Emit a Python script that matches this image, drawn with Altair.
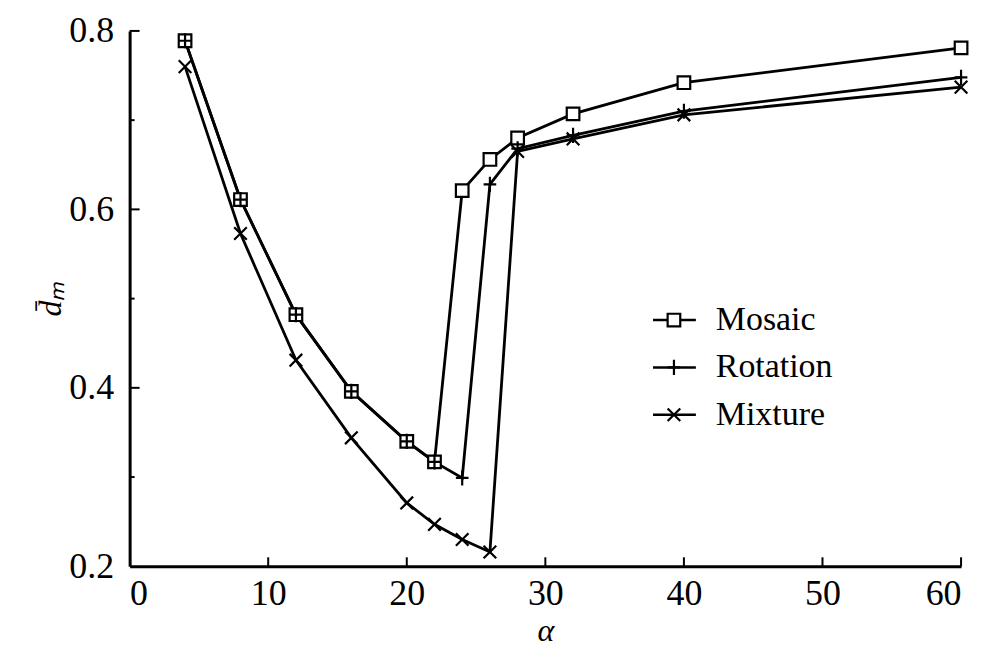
import altair as alt
import pandas as pd

alpha = [4, 8, 12, 16, 20, 22, 24, 26, 28, 32, 40, 60]
mosaic = [0.789, 0.611, 0.482, 0.396, 0.340, 0.317, 0.621, 0.656, 0.680, 0.707, 0.742, 0.781]
rotation = [0.789, 0.611, 0.482, 0.396, 0.340, 0.317, 0.299, 0.628, 0.668, 0.683, 0.710, 0.748]
mixture = [0.760, 0.573, 0.431, 0.344, 0.271, 0.247, 0.230, 0.216, 0.665, 0.679, 0.706, 0.737]
series_names = ["Mosaic", "Rotation", "Mixture"]

x_ticks = [10, 20, 30, 40, 50, 60]
y_major = [0.4, 0.6, 0.8]
y_minor = [0.3, 0.5, 0.7]

rows = []
for name, vals in zip(series_names, [mosaic, rotation, mixture]):
    for a, v in zip(alpha, vals):
        rows.append({"series": name, "alpha": a, "d": v})
df = pd.DataFrame(rows)

FONT = "Liberation Serif"
W, H = 834, 537
SQ = "M-1,-1L1,-1L1,1L-1,1Z"
PLUS = "M-1,0L1,0M0,-1.2L0,1.2"
CROSS = "M-1,-1L1,1M-1,1L1,-1"
shape_scale = alt.Scale(domain=series_names, range=[SQ, PLUS, CROSS])

xs = alt.Scale(domain=[0, 60], nice=False, zero=False)
ys = alt.Scale(domain=[0.2, 0.8], nice=False, zero=False)

base = alt.Chart(df)

lines = base.mark_line(color="black", strokeWidth=2.8).encode(
    x=alt.X("alpha:Q", scale=xs,
            axis=alt.Axis(values=[0, 10, 20, 30, 40, 50, 60], tickSize=0, labelPadding=10,
                          domainWidth=3, domainColor="black", grid=False,
                          labelFont=FONT, labelFontSize=36, labelColor="black",
                          title="α", titleFont=FONT, titleFontSize=32, titleFontStyle="italic",
                          titleFontWeight="normal", titleColor="black", titlePadding=4)),
    y=alt.Y("d:Q", scale=ys,
            axis=alt.Axis(values=[0.2, 0.4, 0.6, 0.8], format=".1f", tickSize=0, labelPadding=16,
                          domainWidth=3, domainColor="black", grid=False,
                          labelFont=FONT, labelFontSize=36, labelColor="black",
                          title="d̄ₘ", titleFont=FONT, titleFontSize=32, titleFontStyle="italic",
                          titleFontWeight="normal", titleColor="black", titleX=-62)),
    detail="series:N",
)

points = base.mark_point(filled=False, stroke="black", strokeWidth=2.2, fill="white", fillOpacity=1, opacity=1, size=160).encode(
    x=alt.X("alpha:Q", scale=xs),
    y=alt.Y("d:Q", scale=ys, axis=None),
    shape=alt.Shape("series:N", scale=shape_scale, legend=None),
)

xt = alt.Chart(pd.DataFrame({"t": x_ticks})).mark_rule(color="black", strokeWidth=2).encode(
    x=alt.X("t:Q", scale=xs), y=alt.value(H), y2=alt.value(H - 9))
ytm = alt.Chart(pd.DataFrame({"t": y_major})).mark_rule(color="black", strokeWidth=2).encode(
    y=alt.Y("t:Q", scale=ys, axis=None), x=alt.value(0), x2=alt.value(10))
ytn = alt.Chart(pd.DataFrame({"t": y_minor})).mark_rule(color="black", strokeWidth=2).encode(
    y=alt.Y("t:Q", scale=ys, axis=None), x=alt.value(0), x2=alt.value(5))

leg_df = pd.DataFrame({"series": series_names, "row": list(range(len(series_names)))})
leg_y = alt.Y("row:Q", scale=alt.Scale(domain=[0, 2], range=[290, 385], nice=False, zero=False), axis=None)
leg_line = alt.Chart(leg_df).mark_rule(color="black", strokeWidth=2.5).encode(
    y=leg_y, x=alt.value(525), x2=alt.value(568))
leg_pt = alt.Chart(leg_df).mark_point(filled=False, stroke="black", strokeWidth=2.2, fill="white", fillOpacity=1, opacity=1, size=160).encode(
    y=leg_y, x=alt.value(546),
    shape=alt.Shape("series:N", scale=shape_scale, legend=None))
leg_txt = alt.Chart(leg_df).mark_text(align="left", baseline="middle", font=FONT, fontSize=34, color="black").encode(
    y=leg_y, x=alt.value(588), text="series:N")

chart = alt.layer(lines, points, xt, ytm, ytn, leg_line, leg_pt, leg_txt).resolve_scale(
    y="independent"
).properties(
    width=W, height=H,
    autosize=alt.AutoSizeParams(type="none"),
    padding={"left": 122, "top": 22, "right": 20, "bottom": 92},
    background="white",
).configure_view(stroke=None)

chart.save("out.html", embed_options={"renderer": "svg", "actions": False})
